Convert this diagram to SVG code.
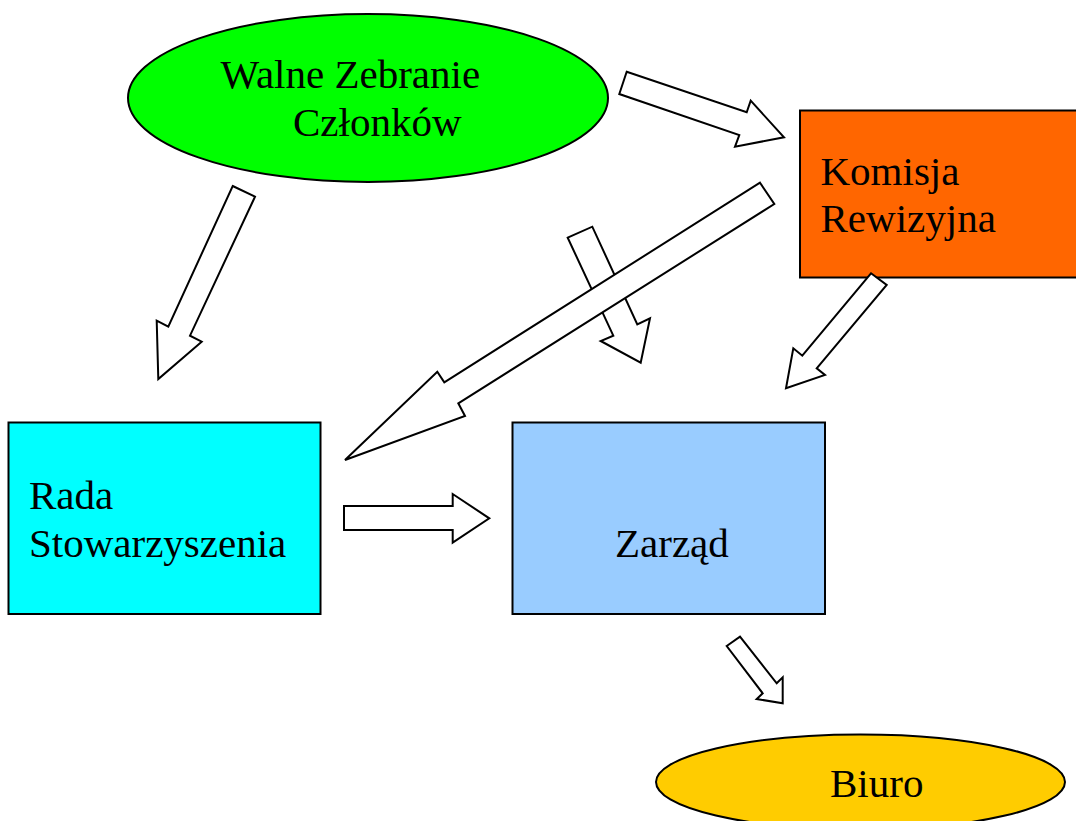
<svg xmlns="http://www.w3.org/2000/svg" width="1076" height="821" viewBox="0 0 1076 821">
<style>
.node{stroke:#000;stroke-width:2}
.arr{fill:#fff;stroke:#000;stroke-width:2;stroke-linejoin:miter}
text{font-family:"Liberation Serif","Times New Roman",serif;font-size:41px;fill:#000}
</style>
<rect width="1076" height="821" fill="#fff"/>
<g id="walne">
<ellipse class="node" cx="368" cy="98" rx="240" ry="84" fill="#00ff00"/>
<text x="220.5" y="88">Walne Zebranie</text>
<text x="293" y="136">Członków</text>
</g>
<g id="komisja">
<rect class="node" x="800" y="110.5" width="280" height="167" fill="#ff6600"/>
<text x="820.5" y="185">Komisja</text>
<text x="820.5" y="232">Rewizyjna</text>
</g>
<g id="rada">
<rect class="node" x="8.5" y="422.5" width="312" height="191.5" fill="#00ffff"/>
<text x="29" y="509">Rada</text>
<text x="29" y="557">Stowarzyszenia</text>
</g>
<g id="zarzad">
<rect class="node" x="512.5" y="422.5" width="312.5" height="191.5" fill="#99ccff"/>
<text x="615" y="557">Zarząd</text>
</g>
<g id="biuro">
<ellipse class="node" cx="860.5" cy="782" rx="204.5" ry="47.5" fill="#ffcc00"/>
<text x="830" y="797">Biuro</text>
</g>
<g id="connectors">
<polygon class="arr" points="626.7,71.7 746.7,112.3 750.7,100.7 784,137.3 735,146.7 739.3,135 619.3,94"/>
<polygon class="arr" points="232.7,186 255,196.7 190,335.7 201.7,341.7 158.3,379 156.7,320.7 168.3,326.7"/>
<polygon class="arr" points="567.7,237.7 592.3,226.7 637.3,324.3 650,318.3 640.7,362.7 600.7,341 613.3,335.7"/>
<polygon class="arr" points="760,182.7 774.3,204 458.3,403.3 465,416 345,460 437.3,371.7 444.3,382.3"/>
<polygon class="arr" points="871,273.3 886.7,285 816.7,368.3 825,375 786,388.3 793.3,348.3 802.3,355.7"/>
<polygon class="arr" points="344,506 452.7,506 452.7,494 489.3,518.3 452.7,542.7 452.7,530 344,530"/>
<polygon class="arr" points="726.7,646 740,636.7 776.7,683.3 782.7,677.3 782.7,703.3 756.7,699 762.7,693.3"/>
</g>
</svg>
